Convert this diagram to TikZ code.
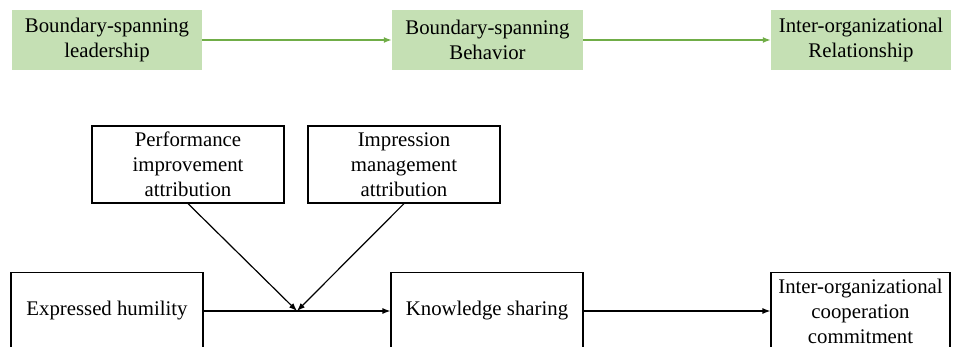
\documentclass[tikz,border=0pt]{standalone}
\usepackage{fontspec}
\setmainfont{Liberation Serif}
\usetikzlibrary{arrows.meta}
\definecolor{boxgreen}{HTML}{C5E0B4}
\definecolor{arrowgreen}{HTML}{70AD47}
\begin{document}
\begin{tikzpicture}[x=1pt, y=-1pt,
    font=\fontsize{20.8}{25}\selectfont,
    greenbox/.style={fill=boxgreen, align=center, inner sep=0pt, minimum height=60pt},
    plainbox/.style={draw, line width=1.2pt, fill=white, align=center, inner sep=0pt, minimum height=77pt},
    greenarrow/.style={draw=arrowgreen, line width=1.5pt, -{Latex[length=8pt, width=6pt]}},
    blackarrow/.style={line width=1.2pt, -{Latex[length=8pt, width=6pt]}}]
    \useasboundingbox (0, 0) rectangle (953, 347);

    % Top line
    \node[greenbox, minimum width=190pt] (lead) at (107, 40) {Boundary-spanning\\leadership};
    \node[greenbox, minimum width=191pt] (behav) at (487.5, 40) {Boundary-spanning\\Behavior};
    \node[greenbox, minimum width=180pt] (rel) at (861, 40) {Inter-organizational\\Relationship};

    \draw[greenarrow] (lead) -- (behav);
    \draw[greenarrow] (behav) -- (rel);

    % Moderators
    \node[plainbox, minimum width=192pt] (perf) at (188, 164.5) {Performance\\improvement\\attribution};
    \node[plainbox, minimum width=192pt] (impr) at (404, 164.5) {Impression\\management\\attribution};

    % Bottom line
    \node[plainbox, minimum width=192pt] (humil) at (107, 311) {Expressed humility};
    \node[plainbox, minimum width=192pt] (know) at (487, 311) {Knowledge sharing};
    \node[plainbox, minimum width=179pt] (commit) at (860.5, 311) {Inter-organizational\\cooperation\\commitment};

    \coordinate (mod) at (297, 311); % meeting point on the arrow

    % Arrows
    \draw[blackarrow] (humil) -- (know);
    \draw[blackarrow] (know) -- (commit);
    \draw[blackarrow] (perf.south) -- (mod);
    \draw[blackarrow] (impr.south) -- (mod);
\end{tikzpicture}
\end{document}
